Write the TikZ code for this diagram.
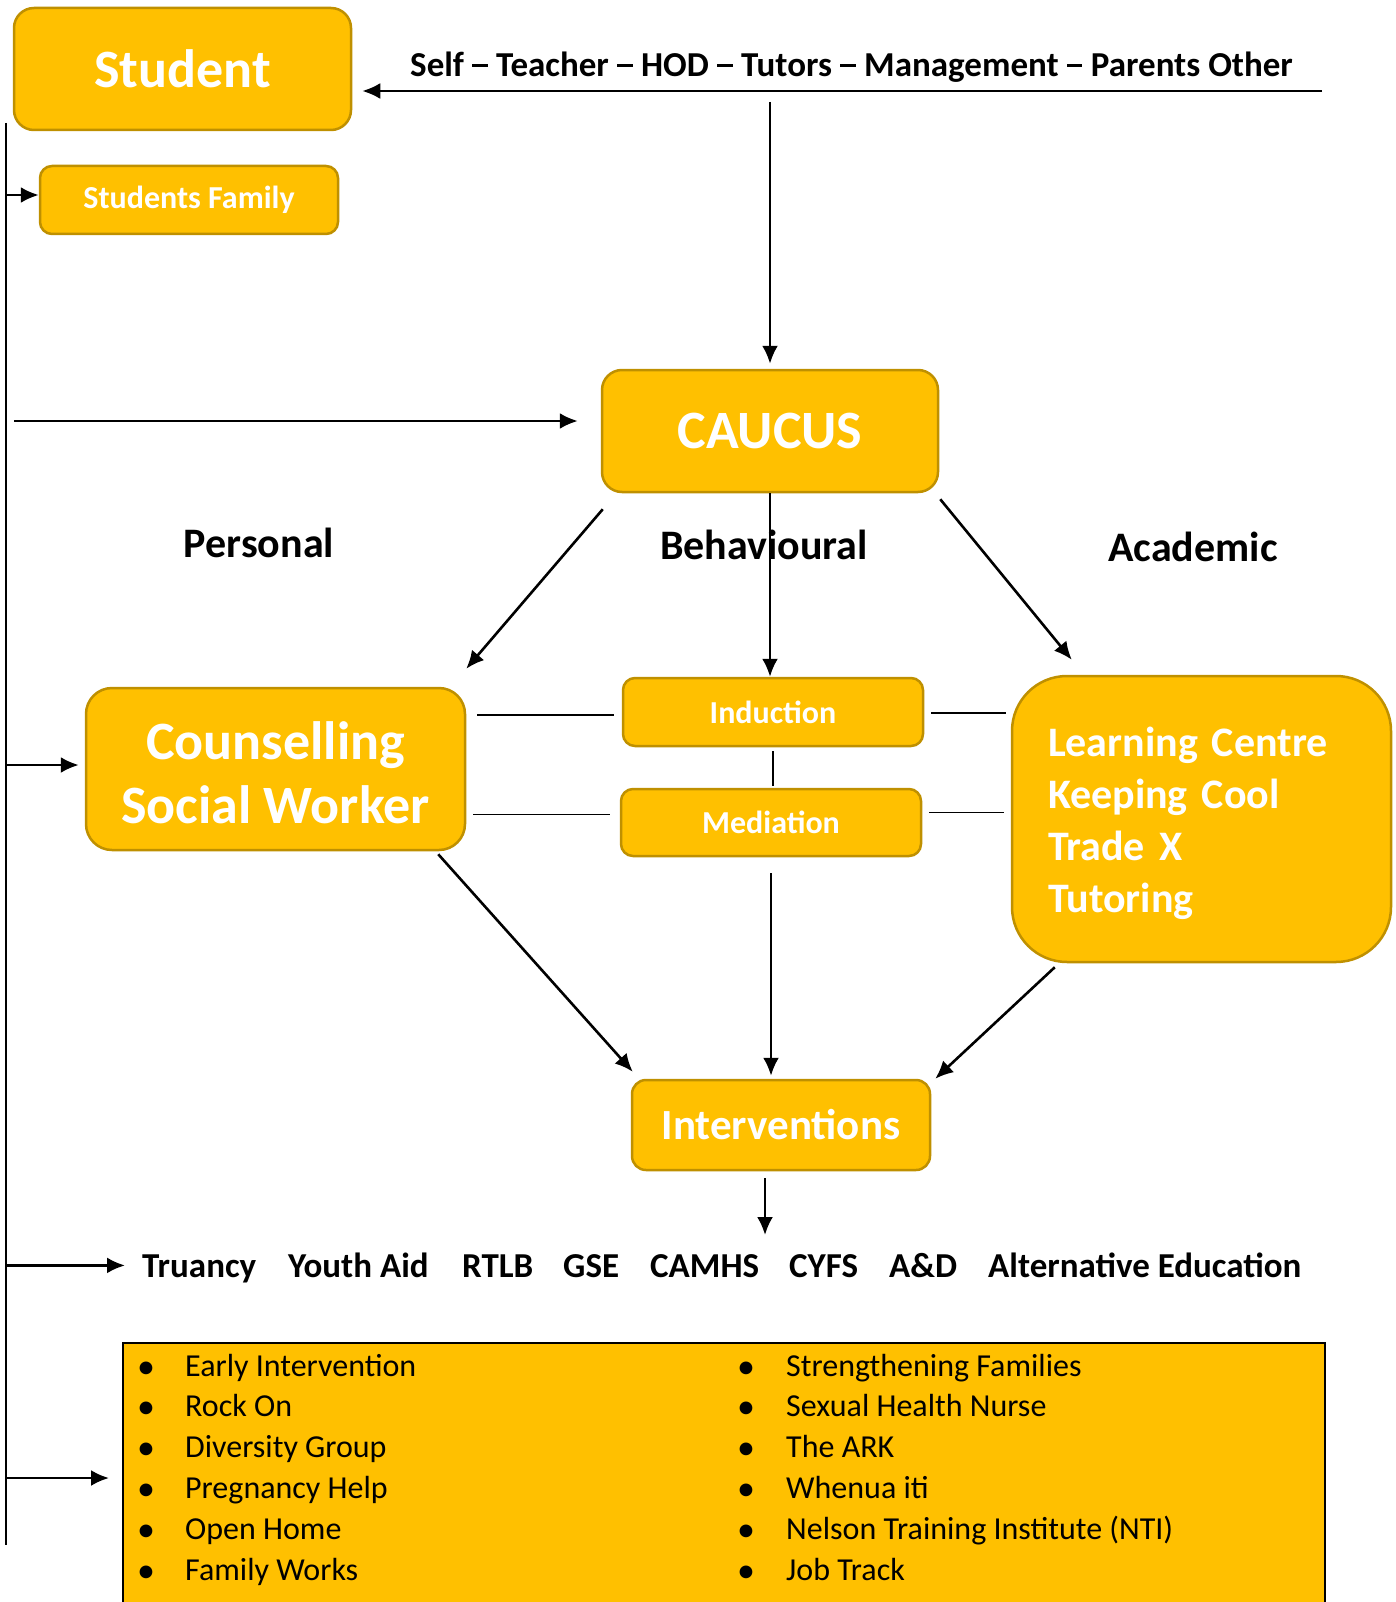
\documentclass[tikz,border=0pt]{standalone}
\usepackage{fontspec}
\setmainfont{Carlito}
\usetikzlibrary{arrows.meta,calc}
\definecolor{gold}{HTML}{FFC000}
\definecolor{goldedge}{HTML}{BF9000}
\newcommand\fsz[2]{\fontsize{#1}{#2}\selectfont}
% a wide, heavy dash used between the referral sources
\newcommand\srcdash{\hspace{0.24em}\rule[0.29em]{0.44em}{0.08em}\hspace{0.24em}}
\tikzset{
  box/.style={draw=goldedge, line width=2.5pt, fill=gold, text=white, align=center, inner sep=0pt},
  hugetxt/.style={font=\bfseries\fsz{54}{64}},
  bigtxt/.style={font=\bfseries\fsz{43}{52}},
  learntxtstyle/.style={font=\bfseries\fsz{42}{52}},
  smalltxt/.style={font=\bfseries\fsz{32}{38}},
  heading/.style={font=\bfseries\fsz{42}{50}, inner sep=0pt},
  rowtxt/.style={font=\bfseries\fsz{35}{40}, inner sep=0pt, anchor=base west},
  listtxt/.style={font=\fsz{32}{38}, inner sep=0pt, anchor=base west},
  conn/.style={line width=2.6pt, -{Latex[length=18pt,width=16pt]}},
  tie/.style={line width=1.6pt},
}
\begin{document}
\begin{tikzpicture}[x=1pt,y=-1pt]
\useasboundingbox (0,0) rectangle (1396,1602);

% ---- boxes
\node[box, hugetxt, rounded corners=20pt, minimum width=337pt, minimum height=122pt] (student) at (182.5,69) {Student};
\node[box, smalltxt, rounded corners=12pt, minimum width=298pt, minimum height=68pt] (family) at (189,200) {Students Family};
\node[box, hugetxt, rounded corners=20pt, minimum width=336pt, minimum height=122pt] (caucus) at (770,431) {CAUCUS};
\node[box, rounded corners=26pt, minimum width=379pt, minimum height=162pt] (couns) at (275.5,769) {};
\node[hugetxt, text=white, align=center, inner sep=0pt] (counstxt) at (275.5,773) {Counselling\\Social Worker};
\node[box, smalltxt, rounded corners=12pt, minimum width=300pt, minimum height=68pt] (induction) at (773,712) {Induction};
\node[box, smalltxt, rounded corners=12pt, minimum width=300pt, minimum height=67pt] (mediation) at (771,822.5) {Mediation};
\node[box, rounded corners=55pt, minimum width=379pt, minimum height=286pt] (learn) at (1201.5,819) {};
\node[learntxtstyle, text=white, text width=307pt, align=left, inner sep=0pt] (learntxt) at (1201.5,823) {Learning Centre\\Keeping Cool\\Trade X\\Tutoring};
\node[box, bigtxt, rounded corners=14pt, minimum width=298pt, minimum height=90pt] (interv) at (781,1125) {Interventions};

% ---- headings
\node[heading] (personal) at (259,543) {Personal};
\node[heading] (behav) at (764,545) {Behavioural};
\node[heading] (academic) at (1193,547) {Academic};

% ---- referral sources
\node[rowtxt] (sources) at (410,77) {Self\srcdash Teacher\srcdash HOD\srcdash Tutors\srcdash Management\srcdash Parents Other};
\coordinate (srcR) at (1322,91);
\coordinate (srcD) at (770,102);
\draw[conn] (srcR) -- ($(student.east |- srcR)+(10,0)$);
\draw[conn] (srcD) -- ([yshift=5pt]caucus.north);

% ---- spine on the left
\coordinate (spineTop) at (6,123);
\coordinate (spineBot) at (6,1545);
\draw[tie] (spineTop) -- (spineBot);
\draw[conn] ([yshift=5pt]spineTop |- family.west) -- ([yshift=5pt]family.west);
\coordinate (cauIn) at (14,421);
\draw[conn] (cauIn) -- ($(cauIn -| caucus.west)+(-23,0)$);
\draw[conn] ([yshift=4pt]spineTop |- couns.west) -- ([xshift=-6pt,yshift=4pt]couns.west);

% ---- from CAUCUS
\draw[conn] ([xshift=2pt,yshift=-16pt]caucus.south west) -- ([yshift=18pt]couns.north east);
\draw[conn] (caucus.south) -- (caucus.south |- induction.north);
\draw[conn] ([xshift=1pt,yshift=-6pt]caucus.south east) -- ([xshift=61pt,yshift=15pt]learn.north west);

% ---- ties between the middle boxes
\draw[tie] ([xshift=-8pt,yshift=-3pt]induction.west) -- ($(induction.west -| couns.east)+(11,3)$);
\draw[tie] ([xshift=-10pt,yshift=8pt]mediation.west) -- ($(mediation.west -| couns.east)+(7,-8)$);
\draw[tie] ([xshift=7pt,yshift=-1pt]induction.east) -- ($(induction.east -| learn.west)+(-5,1)$);
\draw[tie] ([xshift=7pt,yshift=10pt]mediation.east) -- ($(mediation.east -| learn.west)+(-7,-10)$);
\draw[tie] ([yshift=-4pt]induction.south) -- ([yshift=2pt]induction.south |- mediation.north);

% ---- into Interventions
\draw[conn] ([xshift=-28pt,yshift=-3pt]couns.south east) -- ([xshift=2pt,yshift=7pt]interv.north west);
\draw[conn] ([yshift=-16pt]mediation.south) -- ([yshift=3pt]mediation.south |- interv.north);
\draw[conn] ([xshift=44pt,yshift=-4pt]learn.south west) -- ([xshift=4pt]interv.north east);

% ---- agencies row
\node[rowtxt] (a1) at (142,1277) {Truancy};
\node[rowtxt] (a2) at (288,1277) {Youth Aid};
\node[rowtxt] (a3) at (462,1277) {RTLB};
\node[rowtxt] (a4) at (563,1277) {GSE};
\node[rowtxt] (a5) at (650,1277) {CAMHS};
\node[rowtxt] (a6) at (789,1277) {CYFS};
\node[rowtxt] (a7) at (889,1277) {A\&D};
\node[rowtxt] (a8) at (988,1277) {Alternative Education};
\coordinate (rowArrow) at (765,1235);
\draw[conn] ([xshift=-16pt,yshift=-7pt]interv.south) -- (rowArrow);
\draw[conn] ([yshift=3pt]spineTop |- a1.west) -- ([xshift=-17pt,yshift=3pt]a1.west);

% ---- services box
\node[draw=black, line width=2pt, fill=gold, minimum width=1202pt, minimum height=270pt, inner sep=0pt] (services) at (724,1478) {};
\draw[conn] (spineTop |- services.west) -- ([xshift=-13pt]services.west);
\foreach [count=\i] \t in {Early Intervention, Rock On, Diversity Group, Pregnancy Help, Open Home, Family Works}{
  \node[listtxt, font=\fsz{36}{38}] (bl\i) at (137,{1378+40.9*(\i-1)}) {•};
  \node[listtxt] (tl\i) at (185,{1376+40.9*(\i-1)}) {\t};
}
\foreach [count=\i] \t in {Strengthening Families, Sexual Health Nurse, The ARK, Whenua iti, Nelson Training Institute (NTI), Job Track}{
  \node[listtxt, font=\fsz{36}{38}] (br\i) at (737,{1378+40.9*(\i-1)}) {•};
  \node[listtxt] (tr\i) at (786,{1376+40.9*(\i-1)}) {\t};
}
\end{tikzpicture}
\end{document}
